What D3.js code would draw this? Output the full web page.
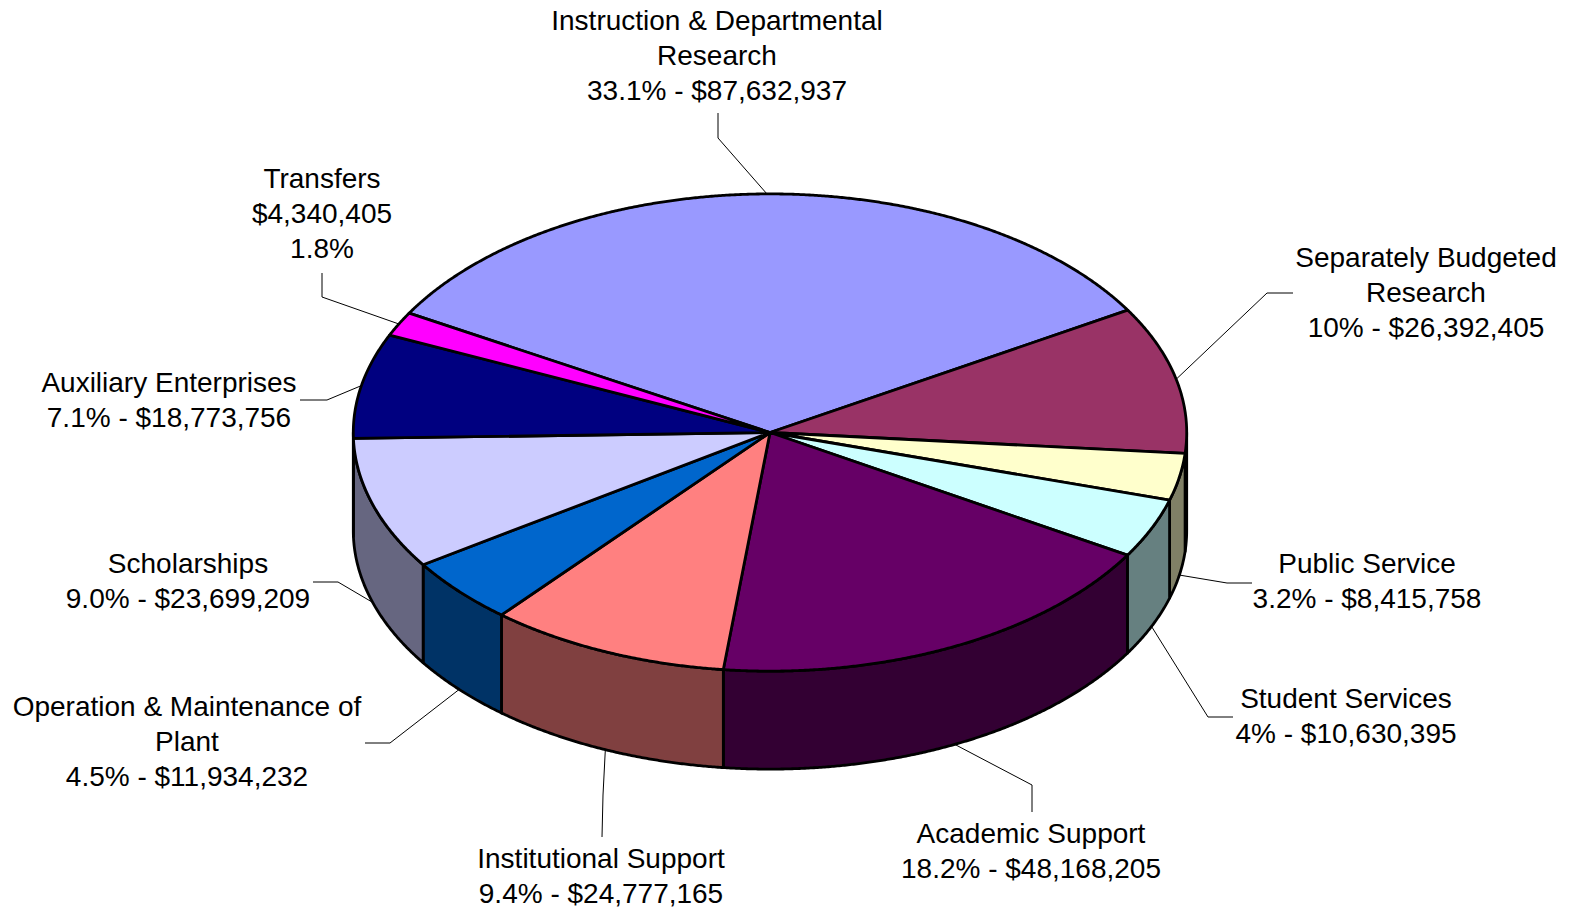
<!DOCTYPE html>
<html>
<head>
<meta charset="utf-8">
<script src="https://cdn.jsdelivr.net/npm/d3@7"></script>
<style>
  html, body { margin: 0; padding: 0; background: #fff; }
  svg { display: block; }
  .lbl { font-family: "Liberation Sans", Arial, sans-serif; font-size: 28px; fill: #000; }
</style>
</head>
<body>
<div id="chart"></div>
<script>
// expense categories, in drawing order (clockwise, starting at the Transfers/Instruction edge)
const categories = [
  "Instruction & Departmental\nResearch",
  "Separately Budgeted\nResearch",
  "Public Service",
  "Student Services",
  "Academic Support",
  "Institutional Support",
  "Operation & Maintenance of\nPlant",
  "Scholarships",
  "Auxiliary Enterprises",
  "Transfers"
];
const amounts = [87632937, 26392405, 8415758, 10630395, 48168205, 24777165, 11934232, 23699209, 18773756, 4340405];
// percentages as printed on the chart
const pctLabels = ["33.1%", "10%", "3.2%", "4%", "18.2%", "9.4%", "4.5%", "9.0%", "7.1%", "1.8%"];
const topColors = ["#9999FF", "#993366", "#FFFFCC", "#CCFFFF", "#660066", "#FF8080", "#0066CC", "#CCCCFF", "#000080", "#FF00FF"];

// label layout: [text centre x, first baseline, leader start x, y, elbow x, y]
const labelLayout = [
  [717, 30, 718, 113, 718, 138],
  [1426, 267, 1293, 293, 1267, 293],
  [1367, 573, 1252, 583, 1227, 583],
  [1346, 708, 1233, 717, 1208, 717],
  [1031, 843, 1032, 812, 1032, 785],
  [601, 868, 602, 837, 603, 795],
  [187, 716, 365, 743, 390, 743],
  [188, 573, 313, 582, 338, 582],
  [169, 392, 300, 400, 327, 400],
  [322, 188, 322, 273, 322, 297]
];

const W = 1572, H = 911;
const cx = 770, cy = 432.5, rx = 416.7, ry = 238.6, depth = 98;
const lineH = 35;

const svg = d3.select("#chart").append("svg")
  .attr("width", W).attr("height", H);

const pie = d3.pie().sort(null)
  .startAngle(300 * Math.PI / 180)
  .endAngle(300 * Math.PI / 180 + 2 * Math.PI);
const arcs = pie(amounts);

// d3 angle (clockwise from 12 o'clock) -> screen parametric angle
const toT = a => a - Math.PI / 2;
const ex = t => cx + rx * Math.cos(t);
const ey = (t, dz) => cy + ry * Math.sin(t) + (dz || 0);

const line = d3.line();
const step = Math.PI / 720;

function arcPts(t0, t1, dz) {
  const pts = [];
  const n = Math.max(2, Math.ceil(Math.abs(t1 - t0) / step));
  for (let i = 0; i <= n; i++) {
    const t = t0 + (t1 - t0) * i / n;
    pts.push([ex(t), ey(t, dz)]);
  }
  return pts;
}

function sideColor(c) {
  const k = d3.rgb(c);
  return d3.rgb(k.r * 0.5, k.g * 0.5, k.b * 0.5).formatHex();
}

const gSide = svg.append("g");
const gTop = svg.append("g");
const gLead = svg.append("g");
const gText = svg.append("g");

// visible outer wall: parametric angle in [0, PI] (mod 2PI)
arcs.forEach((d, i) => {
  const t0 = toT(d.startAngle), t1 = toT(d.endAngle);
  [0, 2 * Math.PI].forEach(off => {
    const a = Math.max(t0, off), b = Math.min(t1, off + Math.PI);
    if (b <= a) return;
    const pts = arcPts(a, b, 0).concat(arcPts(b, a, depth));
    gSide.append("path")
      .attr("d", line(pts) + "Z")
      .attr("fill", sideColor(topColors[i]))
      .attr("stroke", "#000")
      .attr("stroke-width", 2.8)
      .attr("stroke-linejoin", "round");
  });
});

// top faces
arcs.forEach((d, i) => {
  const pts = [[cx, cy]].concat(arcPts(toT(d.startAngle), toT(d.endAngle), 0));
  gTop.append("path")
    .attr("d", line(pts) + "Z")
    .attr("fill", topColors[i])
    .attr("stroke", "#000")
    .attr("stroke-width", 2.8)
    .attr("stroke-linejoin", "round");
});

// leader lines: anchor on the top rim for back slices, on the bottom rim for front ones
arcs.forEach((d, i) => {
  const tm = toT((d.startAngle + d.endAngle) / 2);
  const front = Math.sin(tm) > 0;
  const anchor = [ex(tm), ey(tm, front ? depth : 0)];
  const L = labelLayout[i];
  gLead.append("path")
    .attr("d", line([[L[2], L[3]], [L[4], L[5]], anchor]))
    .attr("fill", "none")
    .attr("stroke", "#000")
    .attr("stroke-width", 1);
});

// labels
const fmt = d3.format(",");
categories.forEach((name, i) => {
  const money = "$" + fmt(amounts[i]);
  let lines = name.split("\n");
  if (i === categories.length - 1) lines = lines.concat([money, pctLabels[i]]);
  else lines.push(pctLabels[i] + " - " + money);
  const L = labelLayout[i];
  const t = gText.append("text").attr("class", "lbl").attr("text-anchor", "middle");
  lines.forEach((s, j) => {
    t.append("tspan").attr("x", L[0]).attr("y", L[1] + j * lineH).text(s);
  });
});
</script>
</body>
</html>
